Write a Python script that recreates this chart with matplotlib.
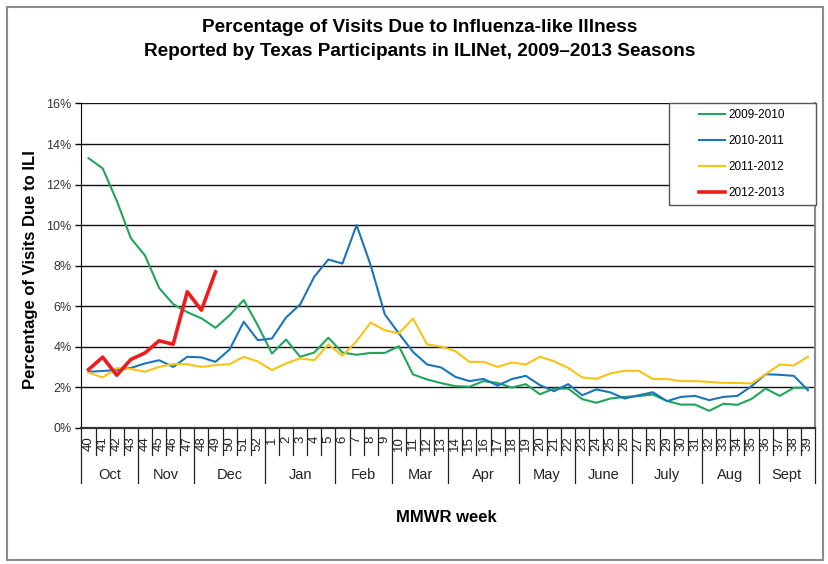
import numpy as np
import matplotlib
matplotlib.use("Agg")
import matplotlib.pyplot as plt
import matplotlib.transforms as mtransforms
from matplotlib.patches import Rectangle

plt.rcParams['font.family'] = ['Liberation Sans', 'DejaVu Sans']

weeks = [str(w) for w in list(range(40, 53)) + list(range(1, 40))]
months = ["Oct", "Nov", "Dec", "Jan", "Feb", "Mar", "Apr", "May", "June", "July", "Aug", "Sept"]
month_weeks = [4, 4, 5, 5, 4, 4, 5, 4, 4, 5, 4, 4]

s2009 = [13.3, 12.8, 11.2, 9.35, 8.5, 6.9, 6.1, 5.7, 5.4, 4.93, 5.55, 6.3, 5.05,
         3.66, 4.35, 3.5, 3.71, 4.44, 3.71, 3.6, 3.69, 3.69, 4.02, 2.63, 2.38, 2.2,
         2.05, 2.02, 2.3, 2.21, 1.98, 2.15, 1.65, 1.93, 1.93, 1.41, 1.23, 1.44, 1.52,
         1.56, 1.64, 1.32, 1.14, 1.14, 0.83, 1.18, 1.13, 1.42, 1.93, 1.57, 1.97, 1.97]
s2010 = [2.76, 2.8, 2.84, 2.95, 3.17, 3.33, 3.0, 3.5, 3.47, 3.25, 3.86, 5.23, 4.32,
         4.4, 5.44, 6.08, 7.45, 8.3, 8.1, 10.0, 8.02, 5.6, 4.65, 3.74, 3.12, 2.97,
         2.51, 2.3, 2.41, 2.08, 2.4, 2.56, 2.1, 1.8, 2.15, 1.6, 1.89, 1.74, 1.44,
         1.6, 1.75, 1.31, 1.52, 1.57, 1.36, 1.52, 1.57, 2.05, 2.64, 2.61, 2.56, 1.85]
s2011 = [2.72, 2.48, 2.94, 2.9, 2.76, 3.0, 3.14, 3.14, 3.0, 3.09, 3.14, 3.5, 3.27,
         2.84, 3.17, 3.42, 3.33, 4.11, 3.55, 4.27, 5.19, 4.81, 4.65, 5.39, 4.11, 4.0,
         3.78, 3.25, 3.25, 3.0, 3.22, 3.12, 3.5, 3.28, 2.95, 2.48, 2.41, 2.68, 2.81,
         2.81, 2.4, 2.4, 2.3, 2.3, 2.26, 2.21, 2.21, 2.18, 2.64, 3.12, 3.07, 3.5]
s2012 = [2.87, 3.48, 2.59, 3.37, 3.69, 4.29, 4.12, 6.71, 5.8, 7.69]

series = [("2009-2010", s2009, "#1fa65a", 1.5),
          ("2010-2011", s2010, "#1b75bb", 1.5),
          ("2011-2012", s2011, "#f7c314", 1.5),
          ("2012-2013", s2012, "#ee1c1c", 2.6)]

W, H = 829, 564
fig = plt.figure(figsize=(W / 100, H / 100), dpi=100)

def fx(px):
    return px / W

def fy(py):
    return 1 - py / H

left, right, top, bottom = 81.5, 815, 103.5, 427.7
ax = fig.add_axes([fx(left), fy(bottom), fx(right - left), (bottom - top) / H])

for name, vals, col, lw in series:
    ax.plot(np.arange(len(vals)), vals, color=col, lw=lw, label=name, zorder=3)

ax.set_xlim(-0.5, len(weeks) - 0.5)
ax.set_ylim(0, 16)
yt = np.arange(0, 17, 2)
ax.set_yticks(yt, labels=[f"{v}%" for v in yt])
ax.yaxis.grid(True, color="#111111", lw=1.0)
ax.set_axisbelow(True)
ax.tick_params(axis="y", direction="out", length=4, width=1, labelsize=9,
               labelcolor="#333333", pad=3)
ax.set_xticks(np.arange(len(weeks)), labels=weeks, rotation=90)
ax.tick_params(axis="x", length=0, pad=6, labelsize=9.5, labelcolor="#222222")

ax.spines["top"].set_visible(False)
ax.spines["right"].set_color("#8c8c8c")
ax.spines["right"].set_linewidth(1.5)
ax.spines["left"].set_color("black")
ax.spines["bottom"].set_color("#333333")
ax.spines["bottom"].set_linewidth(1.6)

trans = mtransforms.blended_transform_factory(ax.transData, ax.transAxes)
axh = bottom - top
short = 27 / axh
long_ = 55 / axh
bounds = np.cumsum([0] + month_weeks)
for b in range(len(weeks) + 1):
    ln = long_ if b in bounds else short
    ax.plot([b - 0.5, b - 0.5], [0, -ln], transform=trans, clip_on=False,
            color="#222222", lw=0.9)
for i, m in enumerate(months):
    cx = (bounds[i] + bounds[i + 1]) / 2 - 0.5
    ax.text(cx, -(475 - bottom) / axh, m, transform=trans, ha="center",
            va="center", fontsize=10.5, color="#222222")

# legend box
rect = Rectangle((fx(669), fy(205)), fx(816 - 669), (205 - 103) / H,
                 transform=fig.transFigure, facecolor="white",
                 edgecolor="#555555", lw=1.0, zorder=4, clip_on=False)
ax.add_patch(rect)
leg = ax.legend(loc="center", bbox_to_anchor=(fx(742), fy(154)),
                bbox_transform=fig.transFigure, frameon=False, fontsize=8.5,
                handlelength=2.2, handletextpad=0.3, labelspacing=1.2)
leg.set_zorder(5)

# titles
fig.text(fx(420), fy(28), "Percentage of Visits Due to Influenza-like Illness",
         ha="center", va="center", fontsize=13.7, fontweight="bold")
fig.text(fx(420), fy(51), "Reported by Texas Participants in ILINet, 2009\u20132013 Seasons",
         ha="center", va="center", fontsize=13.7, fontweight="bold")
fig.text(fx(31), fy(270), "Percentage of Visits Due to ILI", rotation=90,
         ha="center", va="center", fontsize=12, fontweight="bold")
fig.text(fx(446), fy(517), "MMWR week", ha="center", va="center",
         fontsize=12, fontweight="bold")

# outer border
fig.add_artist(Rectangle((fx(7), fy(560)), fx(823 - 7), (560 - 7) / H,
                         transform=fig.transFigure, fill=False,
                         edgecolor="#8c8c8c", lw=1.5))

fig.savefig("out.png", dpi=100)
